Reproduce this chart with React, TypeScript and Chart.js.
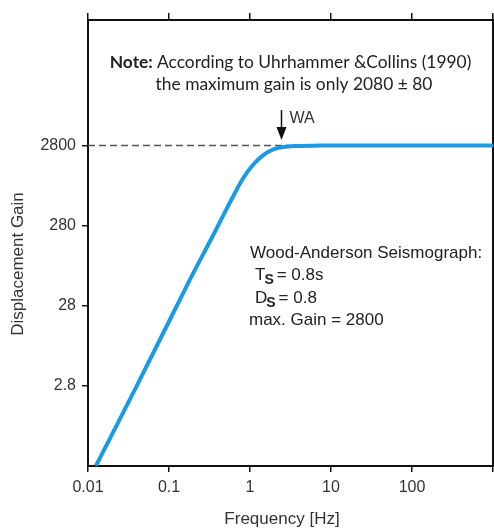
import React, { useEffect, useRef } from "react";
import { Chart, registerables } from "chart.js";

Chart.register(...registerables);

// Data
const frequencies = [0.0125, 0.04, 0.125, 0.2, 0.327, 0.468, 0.622, 0.826, 1.1, 1.46, 1.94, 2.58, 3.77, 7.3, 10, 100, 1000];
const gains = [0.28, 2.8, 28, 72, 185, 375, 656, 1100, 1620, 2120, 2500, 2680, 2760, 2790, 2800, 2800, 2800];
const referenceFreqs = [0.01, 3.2];
const referenceGains = [2800, 2800];
const xTickValues = [0.01, 0.1, 1, 10, 100, 1000];
const xTickLabels = ["0.01", "0.1", "1", "10", "100", ""];
const yTickValues = [2.8, 28, 280, 2800];
const yTickLabels = ["2.8", "28", "280", "2800"];
const waFrequency = 2.4;

const X_MIN = 0.01, X_MAX = 1000, Y_MIN = 0.28, Y_MAX = 103000;

const annotationPlugin = {
  id: "annotations",
  afterDraw(chart: any) {
    const ctx = chart.ctx as CanvasRenderingContext2D;
    const xs = chart.scales.x;
    ctx.save();
    ctx.textBaseline = "middle";
    // Note
    ctx.fillStyle = "#222";
    const boldFont = "bold 17.4px Lato";
    const regFont = "17.4px Lato";
    ctx.font = boldFont;
    const b = "Note: ";
    const wb = ctx.measureText(b).width;
    ctx.font = regFont;
    const r = "According to Uhrhammer &Collins (1990)";
    const wr = ctx.measureText(r).width;
    const sx = 290.5 - (wb + wr) / 2;
    ctx.textAlign = "left";
    ctx.font = boldFont;
    ctx.fillText(b, sx, 62);
    ctx.font = regFont;
    ctx.fillText(r, sx + wb, 62);
    ctx.textAlign = "center";
    ctx.fillText("the maximum gain is only 2080 \u00B1 80", 294, 84);

    // WA arrow
    const ax = Math.round(xs.getPixelForValue(waFrequency)) + 0.5;
    ctx.strokeStyle = "#111";
    ctx.lineWidth = 1.5;
    ctx.beginPath();
    ctx.moveTo(ax, 110);
    ctx.lineTo(ax, 130);
    ctx.stroke();
    ctx.fillStyle = "#111";
    ctx.beginPath();
    ctx.moveTo(ax - 5, 127);
    ctx.lineTo(ax + 5, 127);
    ctx.lineTo(ax, 140);
    ctx.closePath();
    ctx.fill();
    ctx.fillStyle = "#333";
    ctx.textAlign = "left";
    ctx.font = "16px 'Liberation Sans', Arial";
    ctx.fillText("WA", ax + 8, 119);

    // Wood-Anderson block
    ctx.fillStyle = "#222";
    ctx.font = "17px 'Liberation Sans', Arial";
    ctx.fillText("Wood-Anderson Seismograph:", 250, 253);
    const subLine = (main: string, rest: string, y: number) => {
      ctx.font = "17px 'Liberation Sans', Arial";
      ctx.fillText(main, 255, y);
      const w = ctx.measureText(main).width;
      ctx.font = "bold 14px 'Liberation Sans', Arial";
      ctx.fillText("S", 255 + w - 1, y + 5);
      const ws = ctx.measureText("S").width;
      ctx.font = "17px 'Liberation Sans', Arial";
      ctx.fillText(rest, 255 + w + ws + 2, y);
    };
    subLine("T", "= 0.8s", 275);
    subLine("D", "= 0.8", 298);
    ctx.font = "17px 'Liberation Sans', Arial";
    ctx.fillText("max. Gain = 2800", 249, 320);

    // Axis titles
    ctx.fillStyle = "#333";
    ctx.textAlign = "center";
    ctx.font = "17px 'Liberation Sans', Arial";
    ctx.fillText("Frequency [Hz]", 282, 519);
    ctx.translate(18, 264);
    ctx.rotate(-Math.PI / 2);
    ctx.fillText("Displacement Gain", 0, 0);
    ctx.restore();
  },
};

export default function App() {
  const ref = useRef<HTMLCanvasElement | null>(null);
  useEffect(() => {
    if (!ref.current) return;
    const tickFont = { family: "'Liberation Sans', Arial", size: 16 };
    const chart = new Chart(ref.current, {
      type: "line",
      data: {
        datasets: [
          {
            data: frequencies.map((f, i) => ({ x: f, y: gains[i] })),
            borderColor: "#1a9ae4",
            borderWidth: 4,
            pointRadius: 0,
            cubicInterpolationMode: "monotone",
            fill: false,
          },
          {
            data: referenceFreqs.map((f, i) => ({ x: f, y: referenceGains[i] })),
            borderColor: "#555",
            borderWidth: 1.5,
            borderDash: [7, 4],
            pointRadius: 0,
            fill: false,
          },
        ],
      },
      options: {
        animation: false,
        responsive: false,
        events: [],
        layout: { padding: 0 },
        plugins: { legend: { display: false }, tooltip: { enabled: false } },
        scales: {
          x: {
            type: "logarithmic",
            position: "bottom",
            min: X_MIN,
            max: X_MAX,
            afterBuildTicks: (s: any) => { s.ticks = xTickValues.map((v) => ({ value: v })); },
            afterFit: (s: any) => { s.height = 63; s.paddingLeft = 0; s.paddingRight = 0; },
            grid: { drawOnChartArea: false, drawTicks: true, tickLength: 6, color: "#111", lineWidth: 1.5 },
            border: { display: true, color: "#111", width: 2 },
            ticks: {
              autoSkip: false,
              maxRotation: 0,
              padding: 6,
              color: "#333",
              font: tickFont,
              callback: (_v: any, i: number) => xTickLabels[i],
            },
          },
          x2: {
            type: "logarithmic",
            position: "top",
            min: X_MIN,
            max: X_MAX,
            afterBuildTicks: (s: any) => { s.ticks = xTickValues.map((v) => ({ value: v })); },
            afterFit: (s: any) => { s.height = 20; s.paddingLeft = 0; s.paddingRight = 0; },
            grid: { drawOnChartArea: false, drawTicks: true, tickLength: 7, color: "#111", lineWidth: 1.5 },
            border: { display: true, color: "#111", width: 2 },
            ticks: { display: false, autoSkip: false },
          },
          y: {
            type: "logarithmic",
            position: "left",
            min: Y_MIN,
            max: Y_MAX,
            afterBuildTicks: (s: any) => { s.ticks = yTickValues.map((v) => ({ value: v })); },
            afterFit: (s: any) => { s.width = 88; s.paddingTop = 0; s.paddingBottom = 0; },
            grid: { drawOnChartArea: false, drawTicks: true, tickLength: 6, color: "#111", lineWidth: 1.5 },
            border: { display: true, color: "#111", width: 2 },
            ticks: {
              autoSkip: false,
              padding: 6,
              color: "#333",
              font: tickFont,
              callback: (_v: any, i: number) => yTickLabels[i],
            },
          },
          y2: {
            type: "linear",
            position: "right",
            min: 0,
            max: 1,
            afterFit: (s: any) => { s.width = 1; s.paddingTop = 0; s.paddingBottom = 0; },
            grid: { display: false, drawTicks: false },
            border: { display: true, color: "#111", width: 2 },
            ticks: { display: false },
          },
        },
      } as any,
      plugins: [annotationPlugin],
    });
    return () => chart.destroy();
  }, []);
  return (
    <div style={{ position: "absolute", left: 0, top: 0, width: 494, height: 529, background: "#fff" }}>
      <canvas ref={ref} width={494} height={529} style={{ display: "block" }} />
    </div>
  );
}
